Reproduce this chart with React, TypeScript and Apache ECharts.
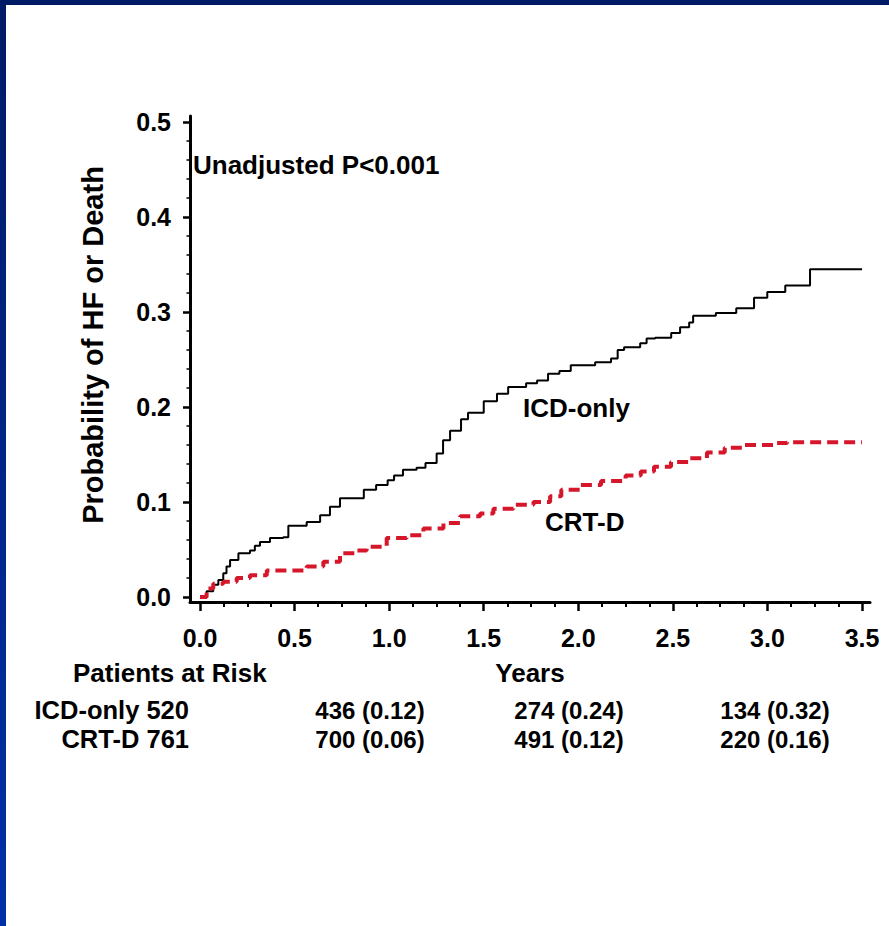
import React, { useEffect, useRef } from "react";
import * as echarts from "echarts";

// ---- data ----
const icdTimes = [0, 0.035, 0.07, 0.097, 0.123, 0.14, 0.159, 0.203, 0.264, 0.29, 0.317, 0.37, 0.44, 0.467, 0.564, 0.635, 0.687, 0.74, 0.866, 0.931, 0.992, 1.026, 1.073, 1.145, 1.192, 1.251, 1.285, 1.322, 1.38, 1.417, 1.5, 1.57, 1.629, 1.724, 1.782, 1.84, 1.9, 1.96, 2.089, 2.173, 2.208, 2.242, 2.327, 2.361, 2.406, 2.491, 2.538, 2.586, 2.607, 2.727, 2.835, 2.929, 2.999, 3.094, 3.225, 3.5];
const icdProb = [0, 0.006, 0.013, 0.018, 0.025, 0.032, 0.039, 0.046, 0.049, 0.054, 0.058, 0.062, 0.063, 0.075, 0.079, 0.086, 0.095, 0.104, 0.113, 0.118, 0.123, 0.128, 0.134, 0.136, 0.141, 0.151, 0.165, 0.175, 0.187, 0.194, 0.206, 0.214, 0.221, 0.225, 0.228, 0.235, 0.238, 0.244, 0.247, 0.251, 0.26, 0.263, 0.267, 0.272, 0.273, 0.278, 0.284, 0.289, 0.296, 0.299, 0.304, 0.315, 0.321, 0.328, 0.345, 0.345];

const crtTimes = [0, 0.035, 0.07, 0.123, 0.194, 0.264, 0.353, 0.564, 0.652, 0.74, 0.829, 0.881, 0.987, 1.093, 1.181, 1.287, 1.375, 1.481, 1.551, 1.657, 1.763, 1.851, 1.91, 2.01, 2.12, 2.25, 2.33, 2.4, 2.49, 2.586, 2.68, 2.774, 2.869, 3.035, 3.104, 3.5];
const crtProb = [0, 0.009, 0.014, 0.016, 0.02, 0.023, 0.028, 0.032, 0.037, 0.046, 0.049, 0.053, 0.062, 0.065, 0.072, 0.078, 0.085, 0.088, 0.093, 0.097, 0.1, 0.106, 0.113, 0.118, 0.122, 0.128, 0.132, 0.137, 0.142, 0.146, 0.152, 0.157, 0.16, 0.162, 0.163, 0.163];

const xTickValues = [0, 0.5, 1.0, 1.5, 2.0, 2.5, 3.0, 3.5];
const yTickValues = [0, 0.1, 0.2, 0.3, 0.4, 0.5];

const seriesNames = ["ICD-only", "CRT-D"];
const yTitle = "Probability of HF or Death";
const xTitle = "Years";
const pValueText = "Unadjusted P<0.001";
const riskTitle = "Patients at Risk";
const riskRowLabels = ["ICD-only 520", "CRT-D 761"];
const icdRisk = ["436 (0.12)", "274 (0.24)", "134 (0.32)"];
const crtRisk = ["700 (0.06)", "491 (0.12)", "220 (0.16)"];

const FONT = '"Liberation Sans", Arial, sans-serif';

function minorValues(major: number[], parts: number): number[] {
  const out: number[] = [];
  for (let i = 0; i < major.length - 1; i++) {
    const step = (major[i + 1] - major[i]) / parts;
    for (let k = 1; k < parts; k++) out.push(+(major[i] + step * k).toFixed(4));
  }
  return out;
}

export default function App() {
  const ref = useRef<HTMLDivElement>(null);

  useEffect(() => {
    document.body.style.margin = "0";
    const chart = echarts.init(ref.current!, null, { renderer: "svg" });

    const txt = (
      text: string,
      x: number,
      y: number,
      size: number,
      align: string = "left",
      extra: any = {}
    ) => ({
      type: "text",
      x,
      y,
      ...extra,
      style: {
        text,
        fill: "#000",
        fontFamily: FONT,
        fontWeight: "bold",
        fontSize: size,
        align,
        verticalAlign: "middle",
      },
    });

    const riskColsX = [370, 569, 775];
    const riskRowsY = [710, 739];

    const graphics: any[] = [
      { type: "rect", shape: { x: 0, y: 0, width: 889, height: 5 }, style: { fill: "#001a66" } },
      {
        type: "rect",
        shape: { x: 0, y: 0, width: 6, height: 926 },
        style: {
          fill: new echarts.graphic.LinearGradient(0, 0, 0, 1, [
            { offset: 0, color: "#001a66" },
            { offset: 1, color: "#0030a8" },
          ]),
        },
      },
      txt(yTitle, 93, 345, 29, "center", { rotation: Math.PI / 2 }),
      txt(pValueText, 193, 165, 26),
      txt(seriesNames[0], 523, 408, 26),
      txt(seriesNames[1], 545, 522, 26),
      txt(riskTitle, 73, 673, 26),
      txt(xTitle, 530, 673, 26, "center"),
      txt(riskRowLabels[0], 189, riskRowsY[0], 25.5, "right"),
      txt(riskRowLabels[1], 189, riskRowsY[1], 25.5, "right"),
      ...icdRisk.map((s, i) => txt(s, riskColsX[i], riskRowsY[0], 24, "center")),
      ...crtRisk.map((s, i) => txt(s, riskColsX[i], riskRowsY[1], 24, "center")),
    ];

    // axis extents: the axis lines run a little past the data origin
    const xMin = -0.0529;
    const xMax = 3.542;
    const yMin = -0.00526;
    const yMax = 0.5063;

    const labelStyle = {
      color: "#000",
      fontFamily: FONT,
      fontWeight: "bold",
      fontSize: 25,
    };

    chart.setOption({
      animation: false,
      backgroundColor: "#fff",
      grid: { left: 190, right: 19, top: 116, bottom: 324, containLabel: false },
      xAxis: [
        {
          type: "value",
          position: "bottom",
          min: xMin,
          max: xMax,
          axisLine: { show: true, onZero: false, lineStyle: { color: "#000", width: 3 } },
          axisTick: { show: true, customValues: xTickValues, length: 9, lineStyle: { color: "#000", width: 2.5 } },
          splitLine: { show: false },
          axisLabel: {
            customValues: xTickValues,
            formatter: (v: number) => (+v).toFixed(1),
            margin: 23,
            ...labelStyle,
          },
        },
        {
          type: "value",
          position: "bottom",
          min: xMin,
          max: xMax,
          axisLine: { show: false, onZero: false },
          axisTick: { show: true, customValues: minorValues(xTickValues, 4), length: 5, lineStyle: { color: "#000", width: 2 } },
          splitLine: { show: false },
          axisLabel: { show: false },
        },
      ],
      yAxis: [
        {
          type: "value",
          position: "left",
          min: yMin,
          max: yMax,
          axisLine: { show: true, onZero: false, lineStyle: { color: "#000", width: 3 } },
          axisTick: { show: true, customValues: yTickValues, length: 7, lineStyle: { color: "#000", width: 2.5 } },
          splitLine: { show: false },
          axisLabel: {
            customValues: yTickValues,
            formatter: (v: number) => (+v).toFixed(1),
            margin: 19,
            ...labelStyle,
          },
        },
        {
          type: "value",
          position: "left",
          min: yMin,
          max: yMax,
          axisLine: { show: false, onZero: false },
          axisTick: { show: true, customValues: minorValues(yTickValues, 5), length: 3.5, lineStyle: { color: "#000", width: 1.5 } },
          splitLine: { show: false },
          axisLabel: { show: false },
        },
      ],
      series: [
        {
          name: seriesNames[0],
          type: "line",
          step: "end",
          showSymbol: false,
          xAxisIndex: 0,
          yAxisIndex: 0,
          data: icdTimes.map((t, i) => [t, icdProb[i]]),
          lineStyle: { color: "#000", width: 2 },
          z: 3,
        },
        {
          name: seriesNames[1],
          type: "line",
          step: "end",
          showSymbol: false,
          xAxisIndex: 0,
          yAxisIndex: 0,
          data: crtTimes.map((t, i) => [t, crtProb[i]]),
          lineStyle: { color: "#d6162b", width: 4, type: [11, 6] },
          z: 4,
        },
      ],
      graphic: graphics,
    });

    return () => chart.dispose();
  }, []);

  return (
    <div
      ref={ref}
      style={{ position: "absolute", left: 0, top: 0, width: 889, height: 926, background: "#fff" }}
    />
  );
}
